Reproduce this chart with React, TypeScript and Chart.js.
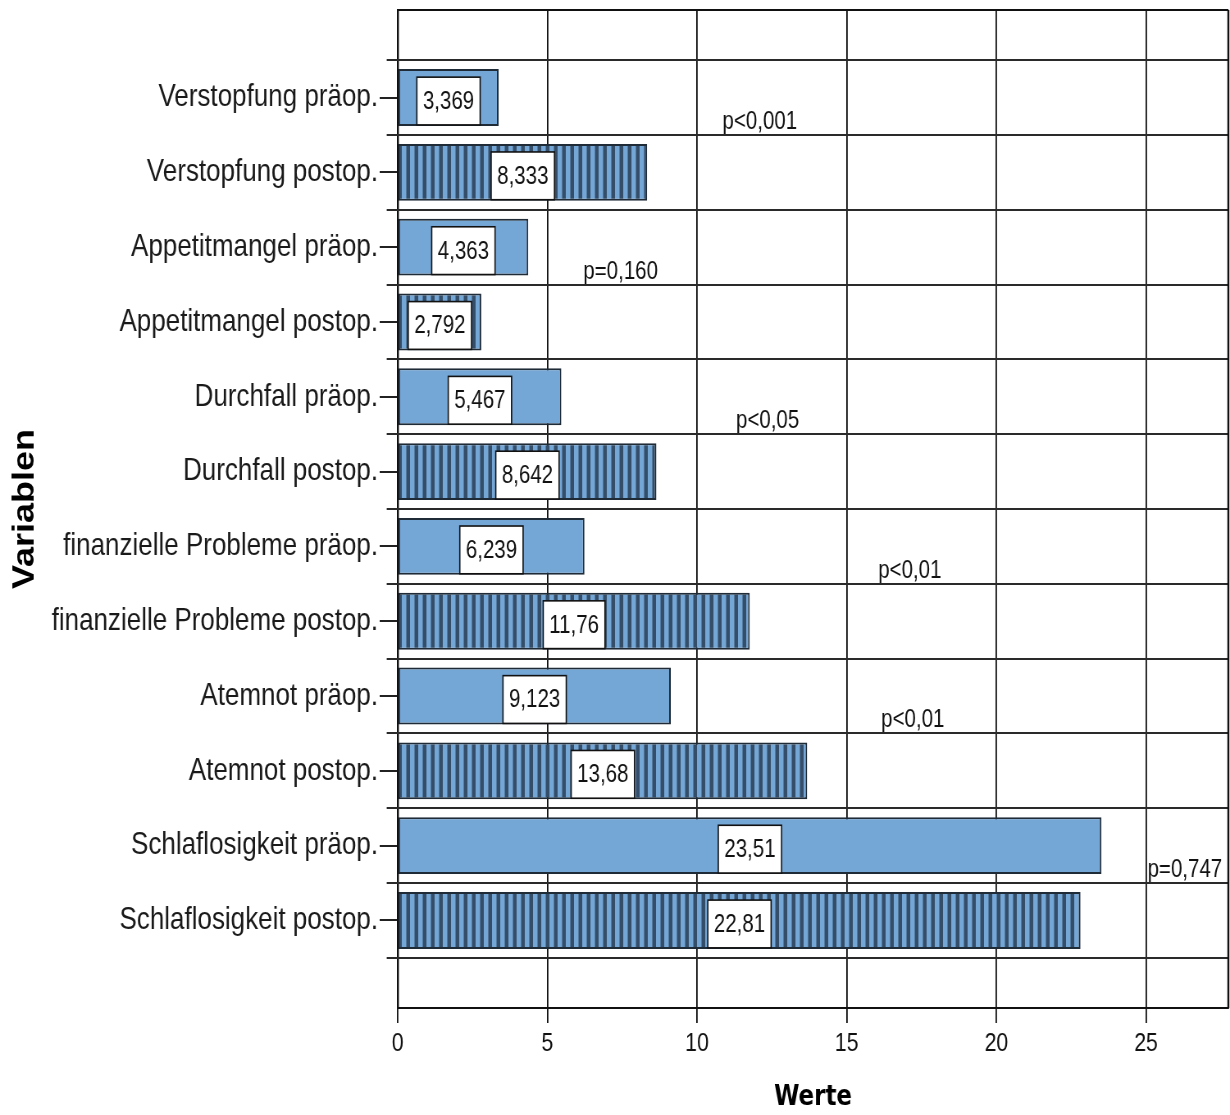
import { useEffect, useRef } from 'react';
import { Chart, registerables } from 'chart.js';

Chart.register(...registerables);

// Symptom scales, each measured before (präop.) and after (postop.) surgery
const conditions = ['Verstopfung', 'Appetitmangel', 'Durchfall', 'finanzielle Probleme', 'Atemnot', 'Schlaflosigkeit'];
const preopValues = [3.369, 4.363, 5.467, 6.239, 9.123, 23.51];
const postopValues = [8.333, 2.792, 8.642, 11.76, 13.68, 22.81];

// Significance of each pre/post comparison and where along the value axis it is written
const pLabels = ['p<0,001', 'p=0,160', 'p<0,05', 'p<0,01', 'p<0,01', 'p=0,747'];
const pLabelAt = [10.85, 6.2, 11.3, 16.05, 16.15, 25.05];

const xTickStep = 5;
const xMax = 27.75;

const rowLabels = conditions.flatMap((c) => [`${c} präop.`, `${c} postop.`]);

// The chart is drawn on a wider bitmap and shown compressed horizontally,
// which gives the narrow lettering of the exported figure.
const SHOWN_W = 1230;
const SHOWN_H = 1115;
const BITMAP_W = 1500;
const SX = BITMAP_W / SHOWN_W;

const SANS = '"Liberation Sans", Arial, sans-serif';
const LIGHT_BLUE = '#74A6D6';
const STRIPE_DARK = '#344E69';
const BAR_EDGE = '#1F2B37';

const formatValue = (v: number) => v.toPrecision(4).replace('.', ',');

function makeStripePattern(ctx: CanvasRenderingContext2D) {
  const tile = document.createElement('canvas');
  tile.width = 10;
  tile.height = 10;
  const t = tile.getContext('2d')!;
  t.fillStyle = LIGHT_BLUE;
  t.fillRect(0, 0, 10, 10);
  t.fillStyle = STRIPE_DARK;
  t.fillRect(5.5, 0, 4.5, 10);
  return ctx.createPattern(tile, 'repeat');
}

// Row separators and the top/right frame of the plot
const rowGrid = {
  id: 'rowGrid',
  beforeDatasetsDraw(chart: any) {
    const { ctx, chartArea: a, scales } = chart;
    const y = scales.y;
    ctx.save();
    ctx.strokeStyle = '#2a2a2a';
    ctx.lineWidth = 2;
    for (let i = 0; i <= rowLabels.length; i++) {
      const py = Math.round(y.getPixelForValue(i - 0.5));
      ctx.beginPath();
      ctx.moveTo(a.left - 11 * SX, py);
      ctx.lineTo(a.right, py);
      ctx.stroke();
    }
    ctx.strokeStyle = '#111';
    ctx.beginPath();
    ctx.moveTo(a.left, a.top);
    ctx.lineTo(a.right, a.top);
    ctx.stroke();
    ctx.lineWidth = 2 * SX;
    ctx.beginPath();
    ctx.moveTo(a.right, a.top);
    ctx.lineTo(a.right, a.bottom);
    ctx.stroke();
    ctx.restore();
  },
};

// Boxed value inside each bar, plus the p-value notes between paired bars
const barNotes = {
  id: 'barNotes',
  afterDatasetsDraw(chart: any) {
    const { ctx, scales } = chart;
    ctx.save();
    ctx.font = `25px ${SANS}`;
    chart.data.datasets.forEach((ds: any, di: number) => {
      const meta = chart.getDatasetMeta(di);
      meta.data.forEach((bar: any, i: number) => {
        const { x, y, base, height } = bar.getProps(['x', 'y', 'base', 'height'], true);
        const text = formatValue(ds.data[i].x);
        const tw = ctx.measureText(text).width;
        const bw = tw + 12 * SX;
        const bh = height * 0.84;
        const cx = (x + base) / 2;
        const cy = y + 3.5;
        ctx.fillStyle = '#ffffff';
        ctx.fillRect(cx - bw / 2, cy - bh / 2, bw, bh);
        ctx.strokeStyle = '#111';
        ctx.lineWidth = 1.6;
        ctx.strokeRect(cx - bw / 2, cy - bh / 2, bw, bh);
        ctx.fillStyle = '#111';
        ctx.textAlign = 'center';
        ctx.textBaseline = 'middle';
        ctx.fillText(text, cx, cy + 1);
      });
    });
    ctx.fillStyle = '#111';
    ctx.textAlign = 'left';
    ctx.textBaseline = 'alphabetic';
    pLabels.forEach((t, k) => {
      const py = scales.y.getPixelForValue(2 * k + 0.5);
      const px = scales.x.getPixelForValue(pLabelAt[k]);
      ctx.fillText(t, px, py - 6);
    });
    ctx.restore();
  },
};

export default function App() {
  const canvasRef = useRef<HTMLCanvasElement | null>(null);

  useEffect(() => {
    const canvas = canvasRef.current!;
    const ctx = canvas.getContext('2d')!;
    const stripes = makeStripePattern(ctx);

    const barStyle = {
      borderColor: BAR_EDGE,
      borderWidth: 2,
      borderSkipped: false,
      grouped: false,
      barPercentage: 0.76,
      categoryPercentage: 1,
    };

    const chart = new Chart(ctx, {
      type: 'bar',
      data: {
        datasets: [
          {
            label: 'präop.',
            data: preopValues.map((v, k) => ({ x: v, y: 2 * k })),
            backgroundColor: LIGHT_BLUE,
            ...barStyle,
          } as any,
          {
            label: 'postop.',
            data: postopValues.map((v, k) => ({ x: v, y: 2 * k + 1 })),
            backgroundColor: stripes,
            ...barStyle,
          } as any,
        ],
      },
      options: {
        indexAxis: 'y',
        responsive: false,
        animation: false,
        devicePixelRatio: 1,
        layout: { padding: { top: 10, right: Math.round(BITMAP_W - 1228 * SX), left: 0, bottom: 0 } },
        plugins: {
          legend: { display: false },
          tooltip: { enabled: false },
        },
        scales: {
          x: {
            type: 'linear',
            min: 0,
            max: xMax,
            afterFit: (s: any) => {
              s.height = SHOWN_H - 1008;
            },
            ticks: {
              stepSize: xTickStep,
              includeBounds: false,
              color: '#111',
              padding: 5,
              font: { family: SANS, size: 26 },
            },
            grid: {
              color: '#111',
              lineWidth: 1.8,
              tickLength: 15,
              tickColor: '#111',
              tickWidth: 1.8,
            },
            border: { display: true, color: '#111', width: 2 },
            title: {
              display: true,
              text: 'Werte',
              color: '#000',
              padding: { top: 0, bottom: 0 },
              font: { family: '"DejaVu Sans", sans-serif', size: 28, weight: 'bold' },
            },
          },
          y: {
            type: 'linear',
            reverse: true,
            offset: false,
            min: -1.17,
            max: rowLabels.length - 1 + 1.17,
            afterBuildTicks: (s: any) => {
              s.ticks = rowLabels.map((_, i) => ({ value: i }));
            },
            afterFit: (s: any) => {
              s.width = Math.round(398 * SX);
              s.paddingTop = 0;
              s.paddingBottom = 0;
            },
            ticks: {
              autoSkip: false,
              color: '#1a1a1a',
              padding: 2,
              font: { family: SANS, size: 31.7 },
              callback: (value: any) => rowLabels[value as number] ?? '',
            },
            grid: {
              offset: false,
              drawOnChartArea: false,
              tickLength: Math.round(18 * SX),
              tickColor: '#222',
              lineWidth: 2,
            },
            border: { display: true, color: '#111', width: 2 * SX },
            title: {
              display: true,
              text: 'Variablen',
              color: '#000',
              padding: { top: 9, bottom: 0 },
              font: { family: SANS, size: 36, weight: 'bold' },
            },
          },
        },
      } as any,
      plugins: [rowGrid, barNotes],
    });

    return () => chart.destroy();
  }, []);

  return (
    <div style={{ position: 'absolute', left: 0, top: 0, width: SHOWN_W, height: SHOWN_H, background: '#fff' }}>
      <canvas
        ref={canvasRef}
        width={BITMAP_W}
        height={SHOWN_H}
        style={{ display: 'block', width: `${SHOWN_W}px`, height: `${SHOWN_H}px` }}
      />
    </div>
  );
}
